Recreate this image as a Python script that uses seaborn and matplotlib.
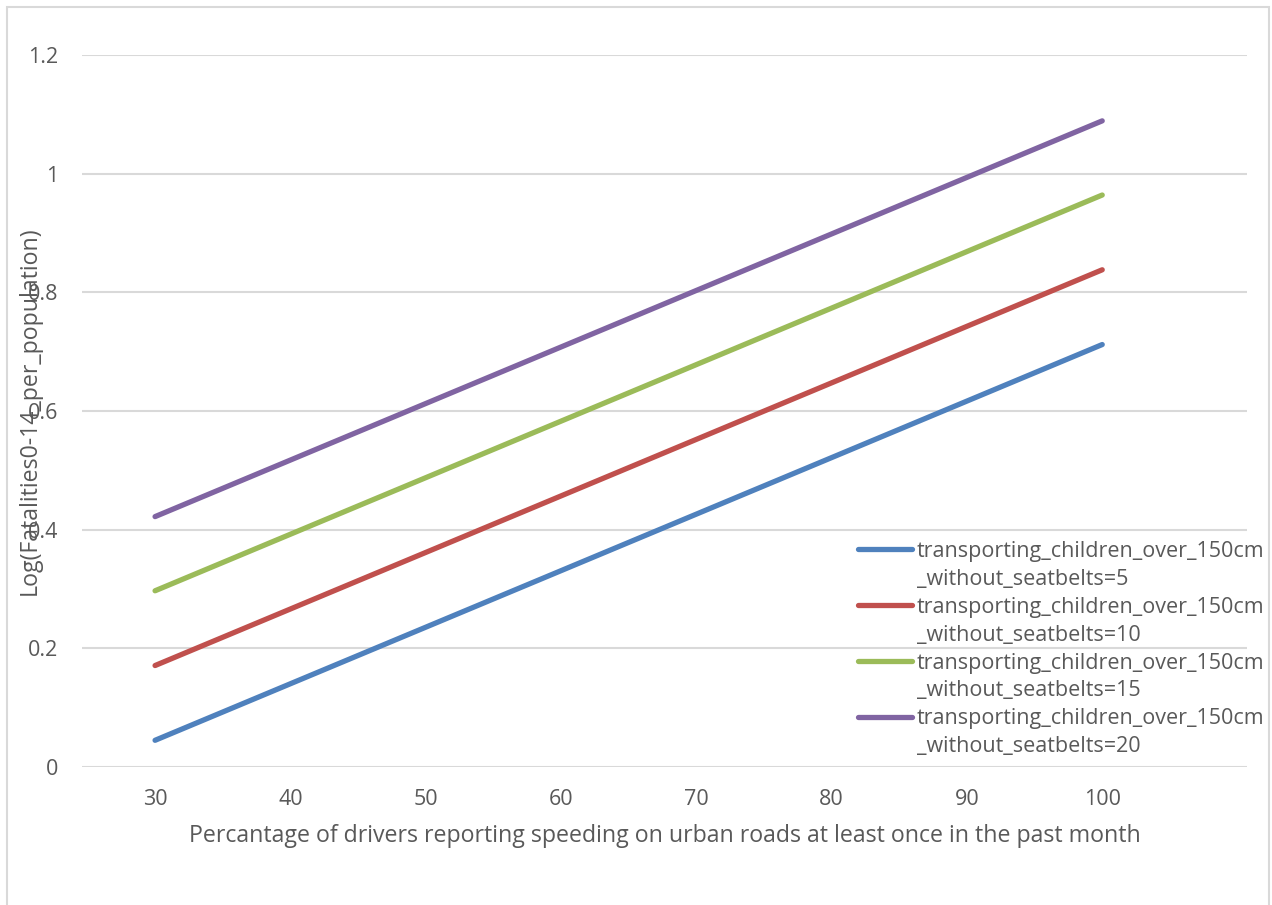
"""Fatalities vs speeding, by seatbelt non-use level."""

import matplotlib.pyplot as plt
import pandas as pd
import seaborn as sns
from matplotlib.lines import Line2D
from matplotlib.patches import Rectangle
from matplotlib.ticker import FuncFormatter

speeding_pct = [30, 100]
seatbelt_levels = [5, 10, 15, 20]
log_fatalities = {
    5: [0.045, 0.712],
    10: [0.171, 0.838],
    15: [0.297, 0.964],
    20: [0.422, 1.089],
}
colors = ["#4F81BD", "#C0504D", "#9BBB59", "#8064A2"]
x_ticks = [30, 40, 50, 60, 70, 80, 90, 100]
y_ticks = [0, 0.2, 0.4, 0.6, 0.8, 1.0, 1.2]

_TEXT = "#595959"
_GRID = "#D9D9D9"
_FS = 15.5
_LABEL_FS = 16.7

rows = []
for lvl in seatbelt_levels:
    for x, y in zip(speeding_pct, log_fatalities[lvl]):
        rows.append({"speeding": x, "logfat": y, "seatbelts": lvl})
df = pd.DataFrame(rows)

sns.set_style("white")
plt.rcParams["font.family"] = ["Open Sans", "DejaVu Sans"]

fig = plt.figure(figsize=(12.72, 9.05), dpi=100)
ax = fig.add_axes([82 / 1272, 1 - 767 / 905, (1247 - 82) / 1272, (767 - 55) / 905])

fig.patches.append(Rectangle((7 / 1272, -0.01), (1269 - 7) / 1272, 1 - 7 / 905 + 0.01,
                             transform=fig.transFigure, fill=False,
                             edgecolor=_GRID, linewidth=1.5))

sns.lineplot(data=df, x="speeding", y="logfat", hue="seatbelts",
             palette=dict(zip(seatbelt_levels, colors)), linewidth=3.8,
             solid_capstyle="round", ax=ax, legend=False)

ax.set_xlim(24.6, 110.7)
ax.set_ylim(0, 1.2)
ax.set_xticks(x_ticks)
ax.set_yticks(y_ticks)
ax.yaxis.set_major_formatter(FuncFormatter(lambda v, _: f"{v:g}"))
ax.grid(axis="y", color=_GRID, linewidth=1.5)
ax.set_axisbelow(True)
for s in ax.spines.values():
    s.set_visible(False)
ax.tick_params(axis="both", length=0, labelsize=_FS, labelcolor=_TEXT)
ax.tick_params(axis="y", pad=17)
ax.tick_params(axis="x", pad=16)

ax.set_xlabel("Percantage of drivers reporting speeding on urban roads at least once in the past month",
              fontsize=_LABEL_FS, color=_TEXT)
ax.xaxis.set_label_coords(0.5, (767 - 836) / 712)
ax.xaxis.label.set_va("center")
ax.set_ylabel("Log(Fatalities0-14_per_population)", fontsize=_LABEL_FS, color=_TEXT)
ax.yaxis.set_label_coords((30 - 82) / 1165, 0.5)
ax.yaxis.label.set_va("center")

handles, labels = [], []
for lvl, c in zip(seatbelt_levels, colors):
    handles.append(Line2D([], [], color=c, linewidth=3.8, solid_capstyle="round"))
    labels.append("transporting_children_over_150cm")
    handles.append(Line2D([], [], color="none"))
    labels.append(f"_without_seatbelts={lvl}")
ax.legend(handles, labels, loc="upper left", bbox_to_anchor=(858 / 1272, 1 - 541 / 905),
          bbox_transform=fig.transFigure, frameon=False, borderpad=0, borderaxespad=0,
          handlelength=2.5, handletextpad=0.22, labelspacing=0.32,
          prop={"size": _FS}, labelcolor=_TEXT)

fig.savefig("out.png", dpi=100)
plt.close(fig)
